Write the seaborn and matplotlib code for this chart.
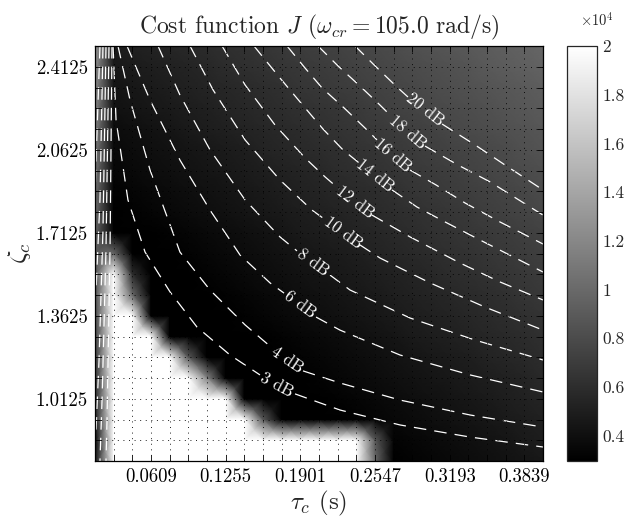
import numpy as np
import matplotlib
matplotlib.use("Agg")
import matplotlib.pyplot as plt
import seaborn as sns

# grid of the sweep: 25 time constants x 21 damping ratios
tau = np.linspace(0.0125, 0.4, 25)
zeta = np.linspace(0.75, 2.5, 21)

# cost J (x1e4), rows from zeta = 2.5 (top) down to zeta = 0.75 (bottom)
W = 2.05  # saturated (white) cells
J_rows_top_down = [
    [1.30, .48, .51, .53, .55, .57, .59, .61, .63, .65, .68, .70, .72, .74, .76, .78, .80, .83, .85, .87, .89, .91, .93, .95, .98],
    [1.25, .46, .48, .50, .52, .54, .56, .59, .61, .63, .65, .67, .69, .71, .74, .76, .78, .80, .82, .84, .86, .89, .91, .93, .95],
    [1.22, .43, .45, .47, .50, .52, .54, .56, .58, .60, .62, .65, .67, .69, .71, .73, .75, .77, .80, .82, .84, .86, .88, .90, .92],
    [1.18, .41, .43, .45, .47, .49, .51, .54, .56, .58, .60, .62, .64, .66, .68, .71, .73, .75, .77, .79, .81, .83, .86, .88, .90],
    [1.15, .38, .40, .42, .44, .47, .49, .51, .53, .55, .57, .59, .62, .64, .66, .68, .70, .72, .74, .77, .79, .81, .83, .85, .87],
    [1.11, .36, .38, .40, .42, .44, .46, .48, .50, .53, .55, .57, .59, .61, .63, .65, .68, .70, .72, .74, .76, .78, .80, .83, .85],
    [1.07, .34, .36, .38, .40, .42, .44, .46, .48, .50, .52, .54, .56, .59, .61, .63, .65, .67, .69, .71, .74, .76, .78, .80, .82],
    [1.04, .31, .33, .35, .37, .39, .41, .43, .45, .47, .50, .52, .54, .56, .58, .60, .62, .65, .67, .69, .71, .73, .75, .77, .80],
    [1.01, .30, .31, .33, .35, .37, .39, .41, .43, .45, .47, .49, .51, .53, .56, .58, .60, .62, .64, .66, .68, .71, .73, .75, .77],
    [.96, .30, .30, .30, .32, .34, .36, .38, .40, .42, .44, .47, .49, .51, .53, .55, .57, .59, .62, .64, .66, .68, .70, .72, .74],
    [.93, 1.00, .30, .30, .30, .32, .34, .36, .38, .40, .42, .44, .46, .48, .50, .53, .55, .57, .59, .61, .63, .66, .68, .70, .72],
    [.88, W, .60, .30, .30, .30, .32, .34, .36, .38, .40, .42, .44, .46, .48, .50, .52, .54, .56, .59, .61, .63, .65, .67, .69],
    [.82, W, 1.00, .30, .30, .30, .30, .31, .33, .35, .37, .39, .41, .43, .45, .47, .50, .52, .54, .56, .58, .60, .62, .65, .67],
    [.77, W, W, .30, .30, .30, .30, .30, .31, .33, .35, .37, .39, .41, .43, .45, .47, .49, .51, .53, .56, .58, .60, .62, .64],
    [.72, W, W, W, .30, .30, .30, .30, .30, .30, .32, .34, .36, .38, .40, .42, .44, .47, .49, .51, .53, .55, .57, .59, .62],
    [.66, W, W, W, W, .90, .30, .30, .30, .30, .30, .32, .34, .36, .38, .40, .42, .44, .46, .48, .50, .53, .55, .57, .59],
    [.61, W, W, W, W, W, 1.20, .30, .30, .30, .30, .30, .32, .34, .36, .38, .40, .42, .44, .46, .48, .50, .52, .54, .57],
    [.56, W, W, W, W, W, W, W, .30, .30, .30, .30, .30, .31, .33, .35, .37, .39, .41, .43, .45, .47, .50, .52, .54],
    [.50, W, W, W, W, W, W, W, W, .90, .30, .30, .30, .30, .31, .33, .35, .37, .39, .41, .43, .45, .47, .49, .51],
    [.34, W, W, W, W, W, W, W, W, W, W, W, W, W, W, .90, .32, .34, .36, .38, .40, .42, .44, .47, .49],
    [.40, W, W, W, W, W, W, W, W, W, W, W, W, W, W, 1.00, .30, .32, .34, .36, .38, .40, .42, .44, .46],
]
J = np.array(J_rows_top_down[::-1])

x_tick_labels = ["0.0609", "0.1255", "0.1901", "0.2547", "0.3193", "0.3839"]
x_label_idx = [3, 7, 11, 15, 19, 23]
y_tick_labels = ["1.0125", "1.3625", "1.7125", "2.0625", "2.4125"]
y_label_idx = [3, 7, 11, 15, 19]
cbar_ticks = [0.4, 0.6, 0.8, 1.0, 1.2, 1.4, 1.6, 1.8, 2.0]
cbar_tick_labels = ["0.4", "0.6", "0.8", "1", "1.2", "1.4", "1.6", "1.8", "2"]

# gain-margin contour lines (None = gap for the inline label)
c3_tau = [0.0281, 0.0307, 0.0410, 0.0558, 0.0774, 0.1007, 0.1293, 0.1552, None, 0.1855, 0.2244, 0.2763, 0.3369, 0.4000]
c3_zeta = [2.500, 2.188, 1.851, 1.631, 1.463, 1.315, 1.197, 1.113, None, 1.033, 0.965, 0.902, 0.851, 0.809]
c4_tau = [0.0324, 0.0428, 0.0601, 0.0860, 0.1120, 0.1423, 0.1656, None, 0.1924, 0.2244, 0.2763, 0.3369, 0.4000]
c4_zeta = [2.500, 2.272, 1.977, 1.631, 1.471, 1.324, 1.227, None, 1.130, 1.079, 1.007, 0.944, 0.893]
c6_tau = [0.0402, 0.0601, 0.0860, 0.1120, 0.1379, 0.1639, 0.1760, None, 0.2037, 0.2244, 0.2763, 0.3369, 0.4000]
c6_zeta = [2.500, 2.272, 2.019, 1.808, 1.619, 1.501, 1.458, None, 1.357, 1.302, 1.197, 1.113, 1.041]
c8_tau = [0.0670, 0.0860, 0.1120, 0.1423, 0.1725, 0.1872, None, 0.2158, 0.2331, 0.2850, 0.3412, 0.4000]
c8_zeta = [2.500, 2.293, 2.062, 1.851, 1.695, 1.636, None, 1.534, 1.471, 1.353, 1.260, 1.176]
c10_tau = [0.0947, 0.1146, 0.1423, 0.1725, 0.2002, 0.2132, None, 0.2417, 0.2590, 0.3023, 0.3499, 0.4000]
c10_zeta = [2.500, 2.315, 2.104, 1.935, 1.808, 1.762, None, 1.661, 1.606, 1.501, 1.399, 1.302]
c12_tau = [0.1224, 0.1423, 0.1682, 0.1942, 0.2115, 0.2236, None, 0.2521, 0.2850, 0.3282, 0.3628, 0.4000]
c12_zeta = [2.500, 2.336, 2.167, 2.028, 1.948, 1.897, None, 1.787, 1.695, 1.585, 1.505, 1.429]
c14_tau = [0.1500, 0.1725, 0.1942, 0.2097, 0.2270, 0.2409, None, 0.2694, 0.2910, 0.3153, 0.3455, 0.4000]
c14_zeta = [2.500, 2.365, 2.239, 2.150, 2.062, 2.007, None, 1.893, 1.821, 1.758, 1.682, 1.547]
c16_tau = [0.1786, 0.1942, 0.2089, 0.2279, 0.2461, 0.2564, None, 0.2850, 0.3075, 0.3326, 0.3628, 0.4000]
c16_zeta = [2.500, 2.407, 2.323, 2.239, 2.154, 2.104, None, 1.977, 1.914, 1.838, 1.758, 1.665]
c18_tau = [0.2054, 0.2227, 0.2417, 0.2590, 0.2685, None, 0.2980, 0.3265, 0.3542, 0.4000]
c18_zeta = [2.500, 2.416, 2.331, 2.251, 2.205, None, 2.078, 1.998, 1.927, 1.787]
c20_tau = [0.2374, 0.2556, 0.2737, 0.2832, None, 0.3127, 0.3412, 0.3672, 0.4000]
c20_zeta = [2.500, 2.412, 2.327, 2.285, None, 2.171, 2.083, 1.998, 1.893]

# crowded high-level contours in the first column
s1_tau, s1_zeta = [0.0168, 0.0134, 0.0125], [2.500, 2.019, 1.851]
s2_tau, s2_zeta = [0.0194, 0.0168, 0.0134], [2.500, 1.851, 1.471]
s3_tau, s3_zeta = [0.0220, 0.0194, 0.0160, 0.0134], [2.500, 1.724, 1.176, 0.881]
s4_tau, s4_zeta = [0.0246, 0.0220, 0.0186, 0.0168], [2.500, 1.640, 1.007, 0.750]
s5_tau, s5_zeta = [0.0272, 0.0255, 0.0229, 0.0220], [2.500, 1.640, 0.923, 0.750]

label_text = ["3 dB", "4 dB", "6 dB", "8 dB", "10 dB", "12 dB", "14 dB", "16 dB", "18 dB", "20 dB"]
label_tau = [0.1699, 0.1786, 0.1898, 0.2011, 0.2270, 0.2374, 0.2547, 0.2703, 0.2832, 0.2980]
label_zeta = [1.070, 1.176, 1.408, 1.585, 1.711, 1.842, 1.952, 2.040, 2.137, 2.230]
label_angle = [-28, -34, -36, -36, -36, -37, -38, -40, -40, -38]

contours = [(c3_tau, c3_zeta), (c4_tau, c4_zeta), (c6_tau, c6_zeta), (c8_tau, c8_zeta),
            (c10_tau, c10_zeta), (c12_tau, c12_zeta), (c14_tau, c14_zeta),
            (c16_tau, c16_zeta), (c18_tau, c18_zeta), (c20_tau, c20_zeta),
            (s1_tau, s1_zeta), (s2_tau, s2_zeta), (s3_tau, s3_zeta),
            (s4_tau, s4_zeta), (s5_tau, s5_zeta)]


def split_segments(xs, ys):
    segs, cur_x, cur_y = [], [], []
    for x, y in zip(xs, ys):
        if x is None:
            segs.append((cur_x, cur_y))
            cur_x, cur_y = [], []
        else:
            cur_x.append(x)
            cur_y.append(y)
    segs.append((cur_x, cur_y))
    return segs


sns.set_style("ticks")
plt.rcParams["font.family"] = ["cmr10", "DejaVu Serif"]
plt.rcParams["mathtext.fontset"] = "cm"
plt.rcParams["axes.unicode_minus"] = False
plt.rcParams["axes.formatter.use_mathtext"] = True

fig = plt.figure(figsize=(6.24, 5.19), dpi=100)
ax = fig.add_axes([95 / 624, 58 / 519, 448 / 624, 415 / 519])
cax = fig.add_axes([567 / 624, 58 / 519, 30 / 624, 415 / 519])

T, Z = np.meshgrid(tau, zeta)
mesh = ax.pcolormesh(T, Z, J, shading="gouraud", cmap="gray", vmin=0.295, vmax=2.0)

for xs, ys in contours:
    for sx, sy in split_segments(xs, ys):
        sns.lineplot(x=sx, y=sy, sort=False, estimator=None, color="white",
                     linewidth=0.9, linestyle=(0, (10, 6.5)), legend=False, ax=ax)

for txt, lx, ly, ang in zip(label_text, label_tau, label_zeta, label_angle):
    ax.text(lx, ly, txt, color="white", fontsize=12, rotation=ang,
            rotation_mode="anchor", ha="center", va="center", zorder=5)

ax.set_xlim(tau[0], tau[-1])
ax.set_ylim(zeta[0], zeta[-1])
ax.set_xticks(tau)
ax.set_yticks(zeta)
xl = [""] * len(tau)
for k, s in zip(x_label_idx, x_tick_labels):
    xl[k] = s
yl = [""] * len(zeta)
for k, s in zip(y_label_idx, y_tick_labels):
    yl[k] = s
ax.set_xticklabels(xl)
ax.set_yticklabels(yl)
ax.tick_params(direction="in", length=4, width=0.6, top=True, right=True,
               labelsize=13.5, pad=5, colors="black")
ax.grid(True, color="black", linestyle=(0, (1.2, 5.5)), linewidth=0.6)
ax.set_axisbelow(False)
for sp in ax.spines.values():
    sp.set_linewidth(0.9)
    sp.set_color("black")

ax.set_xlabel(r"$\tau_c$ (s)", fontsize=18, labelpad=2)
ax.set_ylabel(r"$\zeta_c$", fontsize=19, labelpad=2)
ax.set_title(r"Cost function $J$ ($\omega_{cr} = 105.0$ rad/s)", fontsize=17, pad=9)

cb = fig.colorbar(mesh, cax=cax, ticks=cbar_ticks)
cb.ax.set_yticklabels(cbar_tick_labels)
cb.ax.tick_params(direction="in", length=4, width=0.6, left=True, right=True,
                  labelsize=12.5, pad=4)
cb.outline.set_linewidth(0.9)
fig.text(597 / 624, 1 - 20 / 519, r"$\times10^4$", fontsize=10.5, ha="center", va="center")

fig.savefig("out.png", dpi=100)
